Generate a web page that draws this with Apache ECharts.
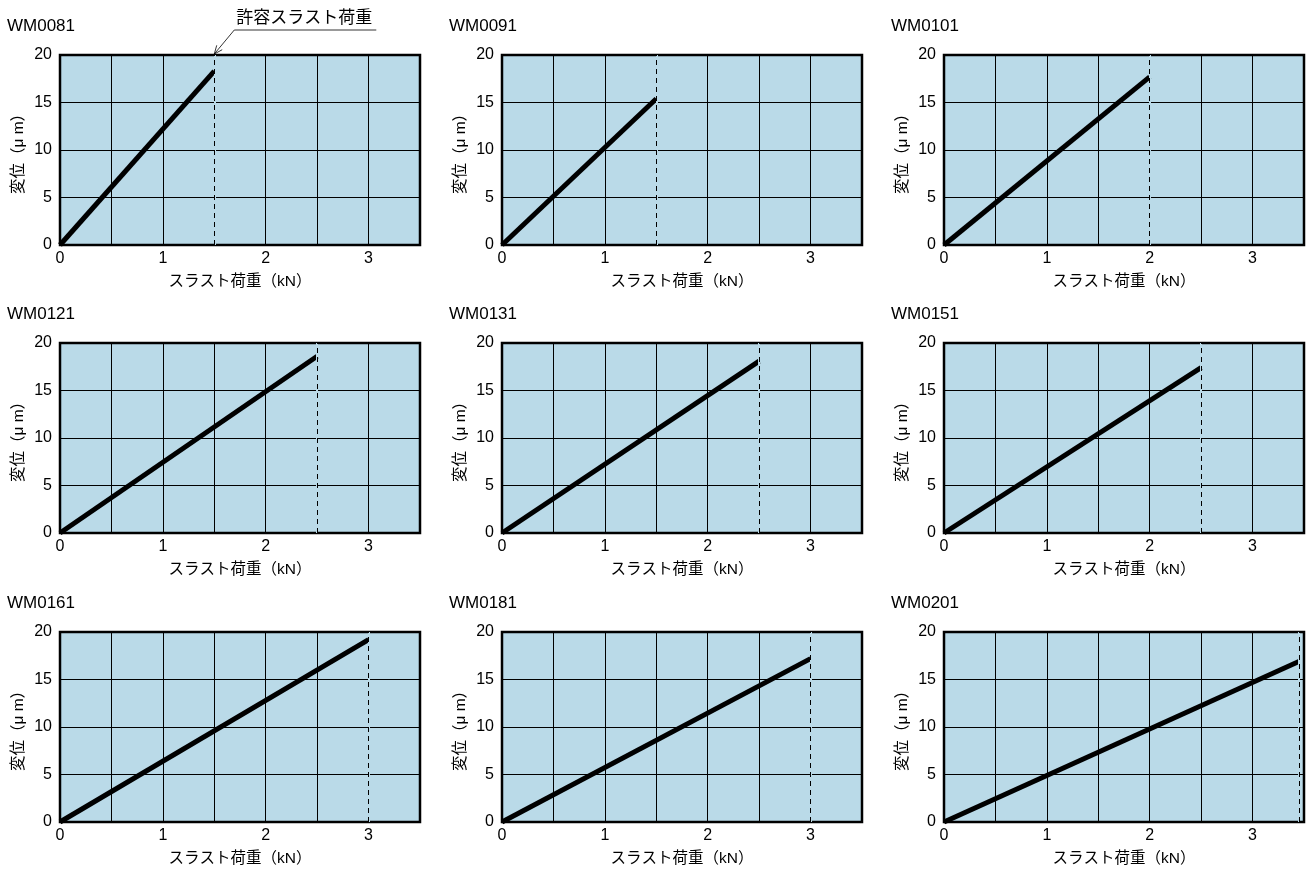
<!DOCTYPE html>
<html>
<head>
<meta charset="utf-8">
<script src="https://cdn.jsdelivr.net/npm/echarts@6/dist/echarts.min.js"></script>
<style>
html,body{margin:0;padding:0;background:#fff;}
#main{width:1313px;height:869px;}
</style>
</head>
<body>
<div id="main"></div>
<script>
// model names, allowable thrust load (kN) and displacement there (um)
var models = ['WM0081','WM0091','WM0101','WM0121','WM0131','WM0151','WM0161','WM0181','WM0201'];
var loadMax = [1.5, 1.5, 2.0, 2.5, 2.5, 2.5, 3.0, 3.0, 3.45];
var dispMax = [18.3, 15.4, 17.7, 18.6, 18.1, 17.4, 19.2, 17.2, 16.9];
var xTicks = [0, 1, 2, 3];
var yTicks = [0, 5, 10, 15, 20];

var FONT = '"Liberation Sans", "Noto Sans CJK JP", sans-serif';
var BG = '#badae8';
var colLeft = [60, 502, 944];
var rowTop = [55, 343, 632];
var W = 360, H = 190;

var chart = echarts.init(document.getElementById('main'));

var grids = [], xAxes = [], yAxes = [], series = [], titles = [];
for (var i = 0; i < models.length; i++) {
	var c = i % 3, r = Math.floor(i / 3);
	grids.push({
		left: colLeft[c], top: rowTop[r], width: W, height: H,
		show: true, backgroundColor: BG, borderColor: '#000', borderWidth: 2.5
	});
	titles.push({
		text: models[i], left: colLeft[c] - 53, top: rowTop[r] - 37, padding: 0,
		textStyle: {fontFamily: FONT, fontSize: 17, fontWeight: 'normal', color: '#000'}
	});
	xAxes.push({
		type: 'value', gridIndex: i, min: 0, max: 3.5, interval: 0.5,
		name: 'スラスト荷重（kN）', nameLocation: 'middle', nameGap: 29,
		nameTextStyle: {fontFamily: FONT, fontSize: 15.5, color: '#000'},
		axisLine: {show: false}, axisTick: {show: false},
		splitLine: {show: true, lineStyle: {color: '#000', width: 1}},
		axisLabel: {
			fontFamily: FONT, fontSize: 16, color: '#000', margin: 6,
			formatter: function (v) { return xTicks.indexOf(v) >= 0 ? String(v) : ''; }
		}
	});
	yAxes.push({
		type: 'value', gridIndex: i, min: 0, max: 20, interval: 5,
		name: '変位（μ m）', nameLocation: 'middle', nameGap: 34, nameRotate: 90,
		nameTextStyle: {fontFamily: FONT, fontSize: 15.5, color: '#000'},
		axisLine: {show: false}, axisTick: {show: false},
		splitLine: {show: true, lineStyle: {color: '#000', width: 1}},
		axisLabel: {
			fontFamily: FONT, fontSize: 16, color: '#000', margin: 8,
			formatter: function (v) { return yTicks.indexOf(v) >= 0 ? String(v) : ''; }
		}
	});
	series.push({
		type: 'line', xAxisIndex: i, yAxisIndex: i,
		data: [[0, 0], [loadMax[i], dispMax[i]]],
		symbol: 'none', silent: true, animation: false,
		lineStyle: {color: '#000', width: 5},
		markLine: {
			silent: true, symbol: 'none', label: {show: false},
			data: [
				// blank out the solid grid line under the dashed one
				{xAxis: loadMax[i], lineStyle: {color: BG, width: 2, type: 'solid'}},
				{xAxis: loadMax[i], lineStyle: {color: '#000', width: 1, type: [5, 4]}}
			]
		}
	});
}

chart.setOption({
	animation: false,
	title: titles,
	grid: grids,
	xAxis: xAxes,
	yAxis: yAxes,
	series: series
});

// annotation "許容スラスト荷重" pointing at the dashed line of the first panel
var tip = chart.convertToPixel({gridIndex: 0}, [loadMax[0], 20]);
var knee = [tip[0] + 20, tip[1] - 25];
var ang = Math.atan2(tip[1] - knee[1], tip[0] - knee[0]);
var ah = 9, aw = 0.4;
chart.setOption({
	graphic: [
		{type: 'polyline', shape: {points: [[tip[0], tip[1] - 1], knee, [knee[0] + 142, knee[1]]]},
			style: {stroke: '#000', lineWidth: 0.8, fill: null}},
		{type: 'polyline', shape: {points: [
			[tip[0] - ah * Math.cos(ang - aw), tip[1] - 1 - ah * Math.sin(ang - aw)],
			[tip[0], tip[1] - 1],
			[tip[0] - ah * Math.cos(ang + aw), tip[1] - 1 - ah * Math.sin(ang + aw)]
		]}, style: {stroke: '#000', lineWidth: 0.8, fill: null}},
		{type: 'text', x: knee[0] + 2, y: knee[1] - 3,
			style: {text: '許容スラスト荷重', fontFamily: FONT, fontSize: 17, fill: '#000',
				textAlign: 'left', textVerticalAlign: 'bottom'}}
	]
});
</script>
</body>
</html>
